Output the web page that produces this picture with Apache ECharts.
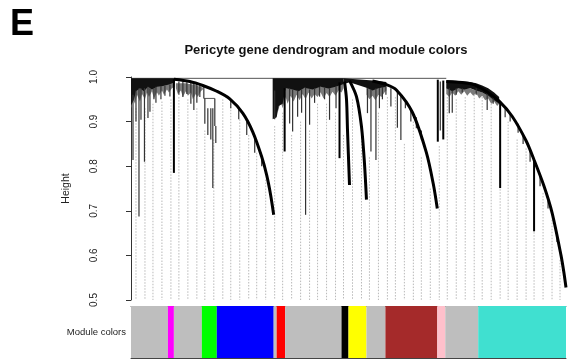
<!DOCTYPE html>
<html>
<head>
<meta charset="utf-8">
<script src="https://cdn.jsdelivr.net/npm/echarts@6/dist/echarts.min.js"></script>
<style>
  html, body { margin: 0; padding: 0; background: #fff; }
  #chart { width: 573px; height: 360px; }
</style>
</head>
<body>
<div id="chart"></div>
<script>
const heightMin = 0.5;
const heightMax = 1.0;
const heightStep = 0.1;

// module colour bar under the tree
const moduleStart = [0, 37, 43, 71, 86, 143, 146, 154.5, 211, 218, 236, 255, 307, 315, 348];
const moduleEnd   = [37, 43, 71, 86, 143, 146, 154.5, 211, 218, 236, 255, 307, 315, 348, 436];
const moduleName  = ['grey', 'magenta', 'grey', 'green', 'blue', 'grey', 'red', 'grey',
                     'black', 'yellow', 'grey', 'brown', 'pink', 'grey', 'turquoise'];

// the big module branches, [leaf, height]
const branchBlue = [[43, 0.995], [59, 0.99], [72, 0.981], [86, 0.968], [99, 0.951], [112, 0.919],
                    [122, 0.877], [131, 0.821], [136, 0.78], [140, 0.735], [143, 0.691]];
const branchBlack = [[214, 0.99], [216, 0.95], [217, 0.881], [219, 0.758]];
const branchYellow = [[219, 0.992], [226, 0.956], [231, 0.889], [234, 0.807], [236, 0.725]];
const branchBrown = [[242, 0.991], [256, 0.983], [266, 0.971], [282, 0.921], [296, 0.831],
                     [303, 0.76], [307, 0.705]];
const branchTurquoise = [[316, 0.99], [342, 0.984], [356, 0.968], [369, 0.946], [382, 0.912],
                         [396, 0.857], [404, 0.814], [414, 0.755], [422, 0.696], [431, 0.6],
                         [434, 0.56], [436, 0.528]];

// dense leaf combs near the top, [leaf, top, bottom]
const combA = [[0, 0.997, 0.935], [3, 0.997, 0.95], [5, 0.997, 0.968], [9, 0.997, 0.975],
               [13, 0.997, 0.968], [17, 0.997, 0.978], [21, 0.997, 0.972], [26, 0.997, 0.978],
               [32, 0.997, 0.98], [38, 0.997, 0.983], [44, 0.997, 0.988]];
const combRed = [[142, 0.997, 0.905], [146, 0.997, 0.91], [148, 0.997, 0.935], [152, 0.997, 0.94],
                 [155, 0.997, 0.975], [162, 0.997, 0.972], [168, 0.997, 0.968], [174, 0.997, 0.976],
                 [182, 0.997, 0.972], [190, 0.997, 0.978], [198, 0.997, 0.974], [205, 0.997, 0.978],
                 [213, 0.997, 0.984]];
const combGrey2 = [[213, 0.997, 0.984], [219, 0.996, 0.988], [236, 0.993, 0.976], [242, 0.992, 0.97],
                   [248, 0.991, 0.975], [256, 0.989, 0.978]];
const combTurq = [[316, 0.992, 0.975], [322, 0.992, 0.968], [328, 0.991, 0.975], [334, 0.99, 0.972],
                  [340, 0.989, 0.975], [346, 0.986, 0.97], [352, 0.981, 0.965], [358, 0.975, 0.958],
                  [364, 0.965, 0.948], [369, 0.955, 0.94]];

// ragged grey fringe of short leaves under the combs, [leaf, top, bottom]
const fringeA = [[0, 0.99, 0.93], [2, 0.99, 0.95], [4, 0.99, 0.94], [6, 0.99, 0.96], [9, 0.99, 0.945],
                 [11, 0.99, 0.962], [14, 0.99, 0.95], [16, 0.99, 0.965], [18, 0.99, 0.955],
                 [21, 0.99, 0.968], [23, 0.99, 0.952], [26, 0.99, 0.966], [28, 0.99, 0.958],
                 [31, 0.99, 0.97], [33, 0.99, 0.96], [36, 0.99, 0.972], [38, 0.99, 0.965],
                 [41, 0.99, 0.975], [44, 0.99, 0.978]];
const fringeB = [[45, 0.986, 0.975], [47, 0.986, 0.962], [50, 0.986, 0.97], [52, 0.986, 0.955],
                 [55, 0.986, 0.968], [57, 0.985, 0.958], [60, 0.984, 0.965], [62, 0.983, 0.95],
                 [65, 0.982, 0.962], [67, 0.98, 0.955], [70, 0.978, 0.968], [72, 0.976, 0.972]];
const fringeRed = [[147, 0.975, 0.92], [150, 0.975, 0.945], [152, 0.975, 0.93], [155, 0.975, 0.955],
                   [157, 0.975, 0.94], [160, 0.975, 0.958], [163, 0.975, 0.945], [166, 0.975, 0.96],
                   [169, 0.975, 0.948], [172, 0.976, 0.962], [175, 0.976, 0.95], [178, 0.976, 0.965],
                   [181, 0.976, 0.952], [184, 0.977, 0.962], [187, 0.977, 0.955], [190, 0.978, 0.966],
                   [193, 0.978, 0.952], [196, 0.978, 0.964], [199, 0.978, 0.955], [202, 0.979, 0.967],
                   [205, 0.98, 0.958], [208, 0.981, 0.97], [211, 0.983, 0.965], [213, 0.984, 0.975]];
const fringeGrey2 = [[236, 0.98, 0.96], [239, 0.978, 0.95], [242, 0.976, 0.958], [245, 0.976, 0.948],
                     [248, 0.977, 0.96], [251, 0.977, 0.955], [254, 0.978, 0.965], [256, 0.978, 0.97]];
const fringeTurq = [[316, 0.976, 0.962], [319, 0.976, 0.955], [322, 0.975, 0.965], [325, 0.975, 0.958],
                    [328, 0.975, 0.968], [331, 0.975, 0.96], [334, 0.974, 0.968], [337, 0.974, 0.958],
                    [340, 0.974, 0.966], [343, 0.972, 0.958], [346, 0.97, 0.964], [349, 0.968, 0.952],
                    [352, 0.965, 0.958], [355, 0.962, 0.948], [358, 0.958, 0.952], [361, 0.954, 0.94],
                    [364, 0.95, 0.945], [367, 0.945, 0.935], [369, 0.942, 0.94]];

// thin hanging leaves, [leaf, bottom, top]
const leafSpikes = [
  [2, 0.814, 0.96], [5, 0.9, 0.97], [8, 0.6875, 0.975], [10, 0.904, 0.975], [13.5, 0.81, 0.975],
  [17, 0.908, 0.978], [19, 0.922, 0.975], [23, 0.95, 0.975], [25, 0.942, 0.978], [30, 0.95, 0.98],
  [34, 0.958, 0.98], [39, 0.956, 0.983],
  [48, 0.96, 0.99], [52, 0.955, 0.99], [56, 0.962, 0.988], [60, 0.94, 0.988], [63, 0.926, 0.986],
  [66, 0.942, 0.984], [69, 0.955, 0.98],
  [73, 0.952, 0.979], [74, 0.895, 0.952], [84, 0.89, 0.952], [77, 0.87, 0.93], [80, 0.86, 0.93],
  [82, 0.751, 0.93], [85, 0.852, 0.89],
  [100, 0.93, 0.95], [108, 0.905, 0.93], [116, 0.87, 0.9], [124, 0.83, 0.866], [131, 0.8, 0.82],
  [144, 0.905, 0.97], [159, 0.896, 0.975], [162, 0.878, 0.972], [167, 0.911, 0.97],
  [171, 0.92, 0.972], [175, 0.691, 0.976], [179, 0.893, 0.972], [184, 0.942, 0.975],
  [189, 0.956, 0.978], [194, 0.95, 0.976], [199, 0.904, 0.975], [205.5, 0.93, 0.978],
  [237, 0.919, 0.975], [240.5, 0.833, 0.972], [245.5, 0.814, 0.975], [249, 0.93, 0.975],
  [252, 0.95, 0.978],
  [255.5, 0.96, 0.978], [260.5, 0.934, 0.975], [267, 0.886, 0.97], [270.5, 0.859, 0.96],
  [275, 0.93, 0.95], [280.5, 0.9, 0.93], [286, 0.885, 0.91], [291, 0.86, 0.88], [310, 0.88, 0.99],
  [319, 0.919, 0.975], [322, 0.92, 0.97], [326, 0.96, 0.975], [332, 0.965, 0.975],
  [346, 0.96, 0.975], [357, 0.926, 0.965], [363, 0.94, 0.955], [375, 0.91, 0.93],
  [380, 0.9, 0.917], [388, 0.875, 0.895], [393, 0.85, 0.868], [400, 0.81, 0.835],
  [410, 0.755, 0.778], [418, 0.705, 0.722], [427, 0.63, 0.65]
];

// heavier single branches, [leaf, bottom, top]
const heavySpikes = [
  [43, 0.785, 0.995], [154, 0.833, 0.975], [209, 0.818, 0.988], [307.5, 0.855, 0.994],
  [313, 0.86, 0.992], [370, 0.751, 0.945], [404, 0.654, 0.814]
];

// horizontal joins, [from leaf, to leaf, height]
const joins = [[0, 316, 0.997], [73, 84, 0.952]];

// dotted guide lines, leaf and where each one hangs from
const guideLeaf = [5, 14, 22, 31, 40, 48, 57, 66, 74, 83, 92, 100, 109, 118, 126, 135, 144, 152, 161, 170,
                   179, 187, 196, 205, 213, 222, 231, 239, 248, 257, 265, 274, 283, 291, 300, 309, 317,
                   326, 335, 344, 352, 361, 370, 378, 387, 396, 404, 413, 422, 430];
const guideTop = [0.93, 0.93, 0.94, 0.945, 0.95, 0.955, 0.95, 0.93, 0.88, 0.86, 0.95, 0.94, 0.905, 0.87,
                  0.83, 0.77, 0.89, 0.92, 0.87, 0.9, 0.88, 0.94, 0.94, 0.92, 0.87, 0.95, 0.87, 0.82,
                  0.92, 0.955, 0.955, 0.85, 0.9, 0.82, 0.75, 0.845, 0.955, 0.95, 0.955, 0.96, 0.955,
                  0.94, 0.93, 0.9, 0.86, 0.84, 0.8, 0.74, 0.68, 0.59];

const palette = {
  grey: '#bebebe', magenta: '#ff00ff', green: '#00ff00', blue: '#0000ff', red: '#ff0000',
  black: '#000000', yellow: '#ffff00', brown: '#a52a2a', pink: '#ffc0cb', turquoise: '#40e0d0'
};

const FONT = 'Liberation Sans, Arial, sans-serif';
const chart = echarts.init(document.getElementById('chart'));

const vline = (color, width, dash) => function (params, api) {
  const a = api.coord([api.value(0), api.value(2)]);
  const b = api.coord([api.value(0), api.value(1)]);
  return {
    type: 'line',
    shape: { x1: a[0], y1: a[1], x2: b[0], y2: b[1] },
    style: { stroke: color, lineWidth: width, lineDash: dash || null }
  };
};

const bandSeries = (bands, fill, z) => ({
  type: 'custom', xAxisIndex: 0, yAxisIndex: 0, silent: true, z: z,
  data: bands.map((c, i) => [c[0][0], c[0][1], i]),
  renderItem: function (params, api) {
    const band = bands[api.value(2)];
    const upper = band.map(p => api.coord([p[0], p[1]]));
    const lower = band.map(p => api.coord([p[0], p[2]])).reverse();
    return { type: 'polygon', shape: { points: upper.concat(lower) }, style: { fill: fill } };
  }
});

const branchSeries = [branchBlue, branchBlack, branchYellow, branchBrown, branchTurquoise].map(d => ({
  type: 'line',
  data: d,
  xAxisIndex: 0, yAxisIndex: 0,
  symbol: 'none',
  smooth: 0.3,
  lineStyle: { color: '#000', width: 3 },
  z: 6,
  silent: true
}));

const option = {
  animation: false,
  backgroundColor: '#fff',
  graphic: [
    { type: 'text', left: 10, top: 7,
      style: { text: 'E', font: 'bold 36px "Liberation Sans Narrow", ' + FONT, fill: '#000' } },
    { type: 'text', x: 326, y: 50,
      style: { text: 'Pericyte gene dendrogram and module colors', font: 'bold 13px ' + FONT,
               fill: '#111', textAlign: 'center', textVerticalAlign: 'middle' } },
    { type: 'text', x: 126, y: 332,
      style: { text: 'Module colors', font: '9.5px ' + FONT, fill: '#222',
               textAlign: 'right', textVerticalAlign: 'middle' } }
  ],
  grid: [
    { left: 131, right: 7, top: 77, bottom: 60 },
    { left: 131, right: 7, top: 306, height: 52 }
  ],
  xAxis: [
    { gridIndex: 0, type: 'value', min: 0, max: 436, show: false },
    { gridIndex: 1, type: 'value', min: 0, max: 436, position: 'bottom',
      axisLine: { show: true, lineStyle: { color: '#444', width: 1 } },
      axisTick: { show: false }, axisLabel: { show: false }, splitLine: { show: false } },
    { gridIndex: 1, type: 'value', min: 0, max: 436, position: 'top',
      axisLine: { show: true, lineStyle: { color: '#666', width: 1 } },
      axisTick: { show: false }, axisLabel: { show: false }, splitLine: { show: false } }
  ],
  yAxis: [
    { gridIndex: 0, type: 'value', min: heightMin, max: heightMax, interval: heightStep,
      position: 'left', offset: 19,
      name: 'Height', nameLocation: 'middle', nameGap: 40, nameRotate: 90,
      nameTextStyle: { fontFamily: FONT, fontSize: 10.5, color: '#222' },
      axisLine: { show: true, lineStyle: { color: '#333', width: 1 } },
      axisTick: { show: true, length: 5, lineStyle: { color: '#333' } },
      axisLabel: { rotate: 90, fontFamily: FONT, fontSize: 10, color: '#222', margin: 13,
                   formatter: v => v.toFixed(1) },
      splitLine: { show: false } },
    { gridIndex: 1, type: 'value', min: 0, max: 1, show: false }
  ],
  series: [
    { // guides
      type: 'custom', xAxisIndex: 0, yAxisIndex: 0, silent: true, z: 1,
      data: guideLeaf.map((x, i) => [x, heightMin, guideTop[i]]),
      renderItem: vline('#b9b9b9', 1, [1.5, 1.5])
    },
    bandSeries([fringeA, fringeB, fringeRed, fringeGrey2, fringeTurq], '#7a7a7a', 2),
    bandSeries([combA, combRed, combGrey2, combTurq], '#111', 3),
    { // joins
      type: 'custom', xAxisIndex: 0, yAxisIndex: 0, silent: true, z: 2,
      data: joins,
      renderItem: function (params, api) {
        const a = api.coord([api.value(0), api.value(2)]);
        const b = api.coord([api.value(1), api.value(2)]);
        return { type: 'line', shape: { x1: a[0], y1: a[1], x2: b[0], y2: b[1] },
                 style: { stroke: '#555', lineWidth: 1 } };
      }
    },
    { type: 'custom', xAxisIndex: 0, yAxisIndex: 0, silent: true, z: 4,
      data: leafSpikes, renderItem: vline('#333', 1.2) },
    { type: 'custom', xAxisIndex: 0, yAxisIndex: 0, silent: true, z: 5,
      data: heavySpikes, renderItem: vline('#000', 2) },
    ...branchSeries,
    { // module colours
      type: 'custom', xAxisIndex: 1, yAxisIndex: 1, silent: true, z: 2,
      data: moduleStart.map((s, i) => [s, moduleEnd[i], i]),
      renderItem: function (params, api) {
        const a = api.coord([api.value(0), 1]);
        const b = api.coord([api.value(1), 0]);
        return { type: 'rect', shape: { x: a[0], y: a[1], width: b[0] - a[0], height: b[1] - a[1] },
                 style: { fill: palette[moduleName[api.value(2)]] } };
      }
    }
  ]
};

chart.setOption(option);
</script>
</body>
</html>
